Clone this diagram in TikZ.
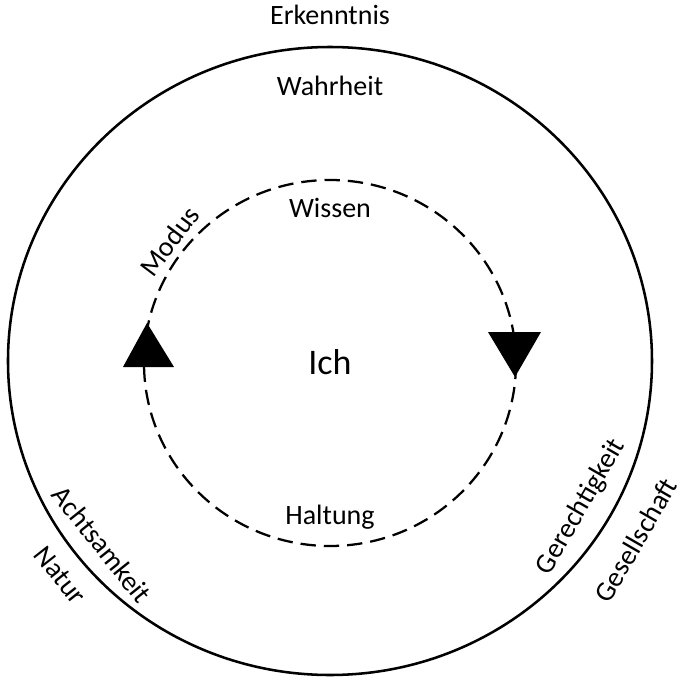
\documentclass[tikz,border=0pt]{standalone}
\usepackage{fontspec}
\setmainfont{Carlito}
\usepackage{tikz}
\usetikzlibrary{arrows.meta}
\usepackage{xcolor}
\definecolor{ColLine}{RGB}{0,0,0}
\tikzstyle{OuterRing}=[draw=ColLine,line width=1.9pt]
\tikzstyle{InnerRing}=[draw=ColLine,line width=1.7pt,dash pattern=on 11.5pt off 6pt]
\tikzstyle{TipFill}=[fill=ColLine,draw=none]
\tikzstyle{LabelNode}=[inner sep=0pt,font=\fontsize{21}{25}\selectfont]
\tikzstyle{SelfNode}=[inner sep=0pt,font=\fontsize{27}{32}\selectfont]

\begin{document}
\begin{tikzpicture}[x=0.75pt,y=0.75pt]
        \useasboundingbox (-330,-317) rectangle (349,362);
        \draw[OuterRing](0,1)ellipse[x radius=322,y radius=314];
        \draw[InnerRing](0,-1)ellipse[x radius=186,y radius=183];
        % Pfeilspitzen auf dem inneren Kreis
        \fill[TipFill](-183,39)--(-207,-5)--(-156,-5)--cycle;
        \fill[TipFill](185,-15)--(158,30)--(211,30)--cycle;
        \node[LabelNode,anchor=base](erk)at(0,337){Erkenntnis};
        \node[LabelNode,anchor=base](wahr)at(0,267){Wahrheit};
        \node[LabelNode,anchor=base](wiss)at(0,145){Wissen};
        \node[SelfNode,anchor=base](ich)at(0,-12){Ich};
        \node[LabelNode,anchor=base](halt)at(0,-162){Haltung};
        \node[LabelNode,rotate=53](modus)at(143:201){Modus};
        \node[LabelNode,rotate=-51.3](acht)at(218.7:292){Achtsamkeit};
        \node[LabelNode,rotate=-51.7](natur)at(218.3:344){Natur};
        \node[LabelNode,rotate=60](gerecht)at(330:290){Gerechtigkeit};
        \node[LabelNode,rotate=60](gesell)at(329.8:354){Gesellschaft};
    \end{tikzpicture}
\end{document}
